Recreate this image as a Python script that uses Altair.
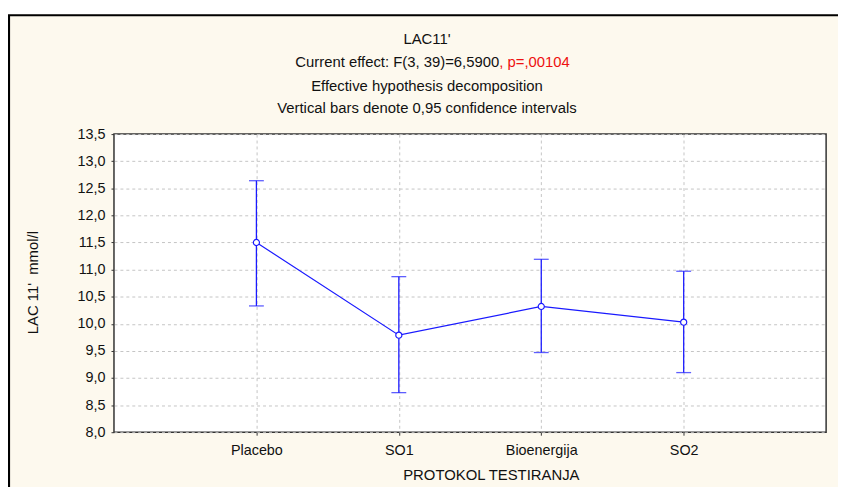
import altair as alt
import pandas as pd

categories = ["Placebo", "SO1", "Bioenergija", "SO2"]
positions = [1, 2, 3, 4]
means = [11.50, 9.79, 10.32, 10.03]
lower = [10.33, 8.73, 9.47, 9.10]
upper = [12.64, 10.87, 11.19, 10.97]
y_ticks = [8.0, 8.5, 9.0, 9.5, 10.0, 10.5, 11.0, 11.5, 12.0, 12.5, 13.0, 13.5]

title_lines = ["LAC11'", "Current effect: F(3, 39)=6,5900", ", p=,00104",
               "Effective hypothesis decomposition",
               "Vertical bars denote 0,95 confidence intervals"]
x_title = "PROTOKOL TESTIRANJA"
y_title = "LAC 11'\u00a0\u00a0mmol/l"

df = pd.DataFrame({"cat": categories, "pos": positions, "mean": means,
                   "lo": lower, "hi": upper})

BLUE = "#1a1aff"
FONT = "Liberation Sans"
FS = 15

x_enc = alt.X("pos:Q", scale=alt.Scale(domain=[0, 5], nice=False, zero=False),
              axis=alt.Axis(values=positions, title=None, grid=True,
                            labelExpr="['','Placebo','SO1','Bioenergija','SO2'][datum.value]",
                            tickSize=3, labelPadding=9, domain=False, labelOverlap=False,
                            labelFontSize=14.5, labelFont=FONT, labelColor="#111",
                            tickColor="#333",
                            gridDash=[3, 3], gridColor="#c4c4c4"))
y_enc = alt.Y("mean:Q", scale=alt.Scale(domain=[8.0, 13.5], nice=False, zero=False),
              axis=alt.Axis(values=y_ticks, title=None, grid=True, tickCount=12,
                            labelExpr="replace(format(datum.value, '.1f'), '.', ',')",
                            tickSize=3, labelPadding=6, domain=False, labelOverlap=False,
                            labelFontSize=14.5, labelFont=FONT, labelColor="#111",
                            tickColor="#333",
                            gridDash=[3, 3], gridColor="#c4c4c4"))

base = alt.Chart(df)

line = base.mark_line(color=BLUE, strokeWidth=1.2).encode(x=x_enc, y=y_enc)
rules = base.mark_rule(color=BLUE, strokeWidth=1.3).encode(
    x="pos:Q", y="lo:Q", y2="hi:Q")
cap_hi = base.mark_tick(color=BLUE, orient="horizontal", size=15, thickness=1.3).encode(
    x="pos:Q", y="hi:Q")
cap_lo = base.mark_tick(color=BLUE, orient="horizontal", size=15, thickness=1.3).encode(
    x="pos:Q", y="lo:Q")
points = base.mark_point(shape="circle", filled=False, fill="white", fillOpacity=1,
                         color=BLUE, size=38, strokeWidth=1.2).encode(x="pos:Q", y="mean:Q")

one = pd.DataFrame({"a": [0]})
anno = alt.Chart(one)

top_white = anno.mark_rect(fill="white").encode(
    x=alt.value(-120), x2=alt.value(800), y=alt.value(-140), y2=alt.value(-121))
frame = anno.mark_rect(fill=None, stroke="#000", strokeWidth=2.2).encode(
    x=alt.value(-106), x2=alt.value(800), y=alt.value(-120), y2=alt.value(420))

def txt(s, x, y, color="#111", align="center", angle=0):
    kw = dict(text=s, font=FONT, fontSize=FS, color=color, align=align, baseline="middle")
    if angle:
        kw["angle"] = angle
    return anno.mark_text(**kw).encode(x=alt.value(x), y=alt.value(y))

t1 = txt(title_lines[0], 316, -96)
t2a = txt(title_lines[1], 389, -73, align="right")
t2b = txt(title_lines[2], 389, -73, color="#ee1111", align="left")
t3 = txt(title_lines[3], 316, -49)
t4 = txt(title_lines[4], 316, -26)
xt = txt(x_title, 381, 344)
yt = txt(y_title, -82, 150, angle=270)

chart = alt.layer(
    top_white, frame, line, rules, cap_hi, cap_lo, points,
    t1, t2a, t2b, t3, t4, xt, yt
).properties(
    width=719, height=301,
    autosize=alt.AutoSizeParams(type="none"),
    padding={"left": 107, "top": 125, "right": 12, "bottom": 53},
    background="#fdf9ee",
).configure_view(
    fill="white", stroke="#333", strokeWidth=1.5
)

chart.save("out.html", embed_options={"renderer": "svg", "actions": False})
